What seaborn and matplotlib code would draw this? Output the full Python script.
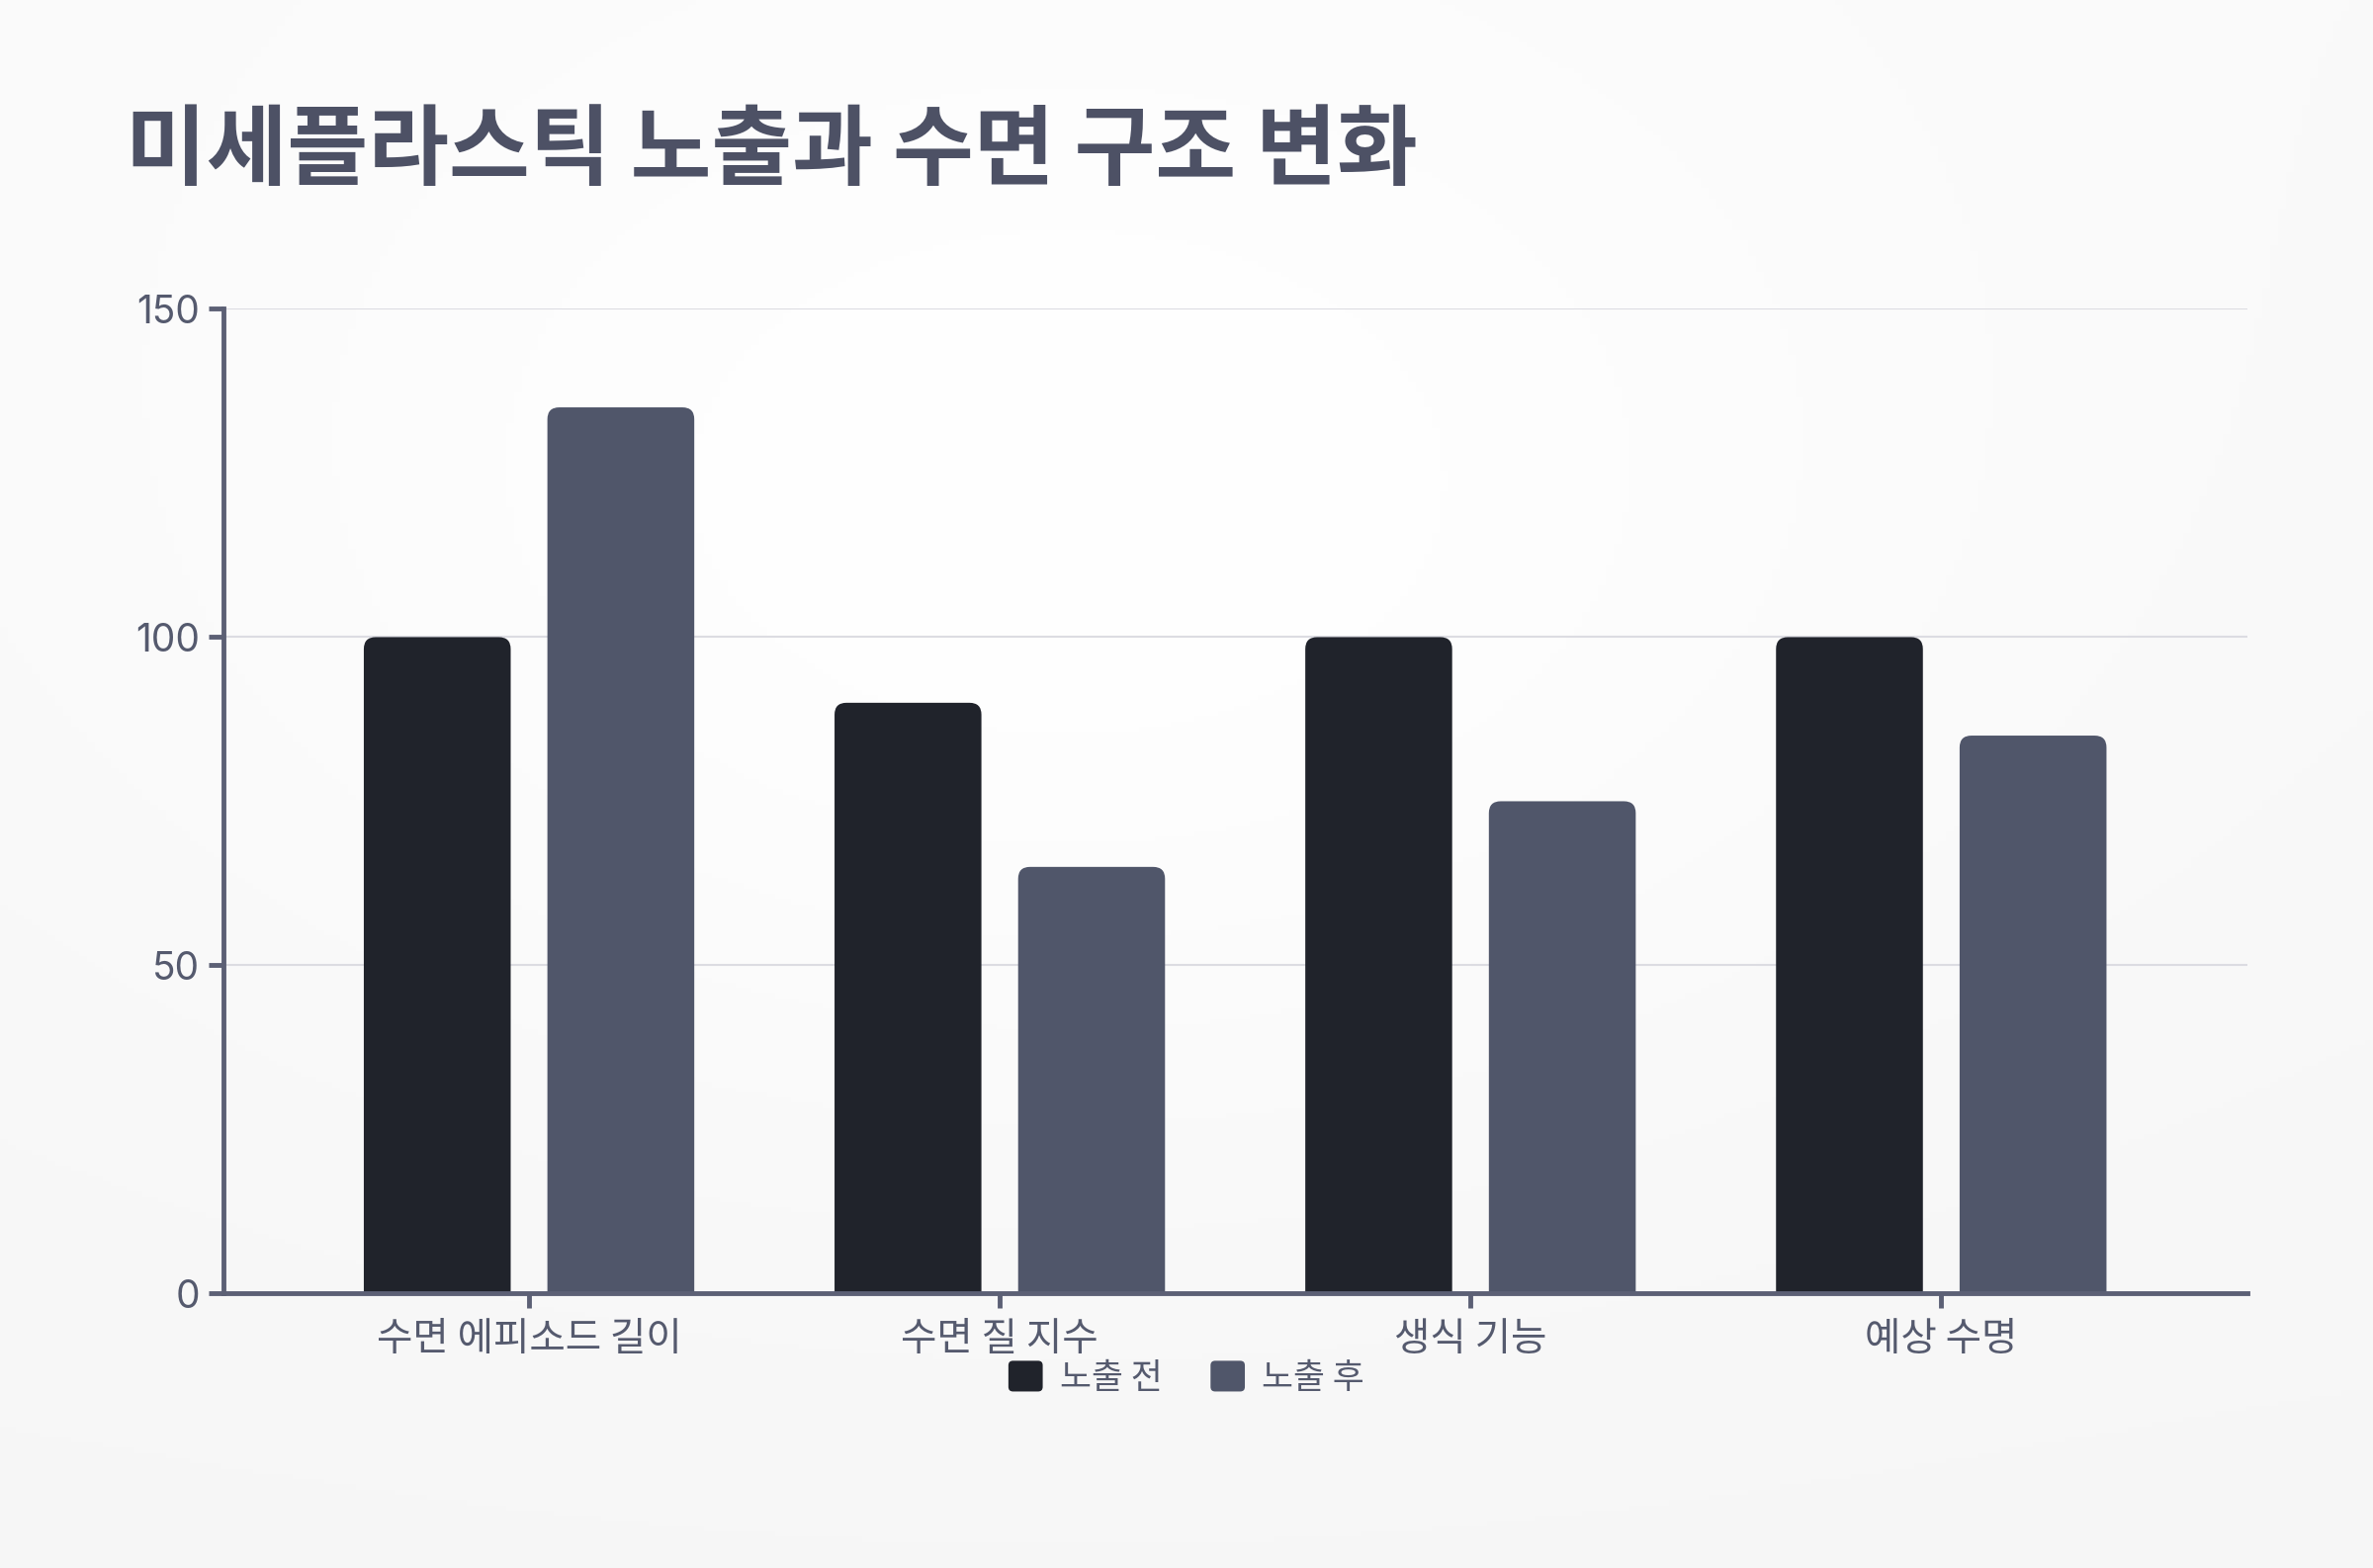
import numpy as np
import pandas as pd
import matplotlib
matplotlib.use('Agg')
import matplotlib.pyplot as plt
from matplotlib.patches import FancyBboxPatch, Patch
from matplotlib.legend_handler import HandlerPatch
import seaborn as sns

# chart data
categories = ['수면 에피소드 길이', '수면 질 지수', '생식 기능', '예상 수명']
before_vals = [100, 90, 100, 100]
after_vals = [135, 65, 75, 85]
series_names = ['노출 전', '노출 후']
colors = ['#20232b', '#50566a']
y_ticks = [0, 50, 100, 150]

df = pd.DataFrame({
    'category': categories * 2,
    'value': before_vals + after_vals,
    'series': [series_names[0]] * len(categories) + [series_names[1]] * len(categories),
})

sns.set_theme(style='white')
plt.rcParams['font.family'] = ['Noto Sans CJK KR', 'DejaVu Sans']

text_col = '#555a6e'
axis_col = '#5c6075'

fig = plt.figure(figsize=(24, 15.86), dpi=100)

# soft background gradient
bg = fig.add_axes([0, 0, 1, 1], zorder=-10)
yy = np.linspace(0, 1, 300)[:, None]
xx = np.linspace(0, 1, 300)[None, :]
shade = 0.975 + 0.025 * np.exp(-((xx - 0.45) ** 2 + (yy - 0.35) ** 2) / 0.15) - 0.012 * yy
bg.imshow(shade, cmap='gray', vmin=0, vmax=1, aspect='auto', extent=[0, 1, 0, 1])
bg.set_axis_off()

ax = fig.add_axes([0.094, 0.175, 0.853, 0.628])
ax.patch.set_alpha(0)

sns.barplot(data=df, x='category', y='value', hue='series', palette=colors,
            width=0.78, gap=0.2, saturation=1, ax=ax, legend=False, zorder=3)

ax.set_xlim(-0.65, 3.65)
ax.set_ylim(0, 150)
fig.canvas.draw()

# rounded bar tops
inv = ax.transData.inverted()
p0 = inv.transform((0, 0))
p1 = inv.transform((1, 1))
dx_per_px = p1[0] - p0[0]
dy_per_px = p1[1] - p0[1]
radius_px = 12
for bar in list(ax.patches):
    x0 = bar.get_x()
    w = bar.get_width()
    h = bar.get_height()
    fc = bar.get_facecolor()
    bar.remove()
    rb = FancyBboxPatch((x0, -5), w, h + 5,
                        boxstyle=f'round,pad=0,rounding_size={radius_px * dx_per_px}',
                        mutation_aspect=dy_per_px / dx_per_px,
                        facecolor=fc, edgecolor='none', zorder=3)
    ax.add_patch(rb)

ax.set_yticks(y_ticks)
ax.yaxis.grid(True, color='#dcdce2', linewidth=1.5, zorder=0)
ax.xaxis.grid(False)
for s in ['top', 'right']:
    ax.spines[s].set_visible(False)
for s in ['left', 'bottom']:
    ax.spines[s].set_color(axis_col)
    ax.spines[s].set_linewidth(3.5)
    ax.spines[s].set_zorder(5)
ax.tick_params(axis='both', bottom=True, left=True, colors=axis_col, width=3.5, length=11,
               direction='out', labelcolor=text_col)
ax.tick_params(axis='x', pad=8, labelsize=28.5)
ax.tick_params(axis='y', pad=6, labelsize=28)
for lbl in ax.get_yticklabels():
    lbl.set_fontfamily(['Inter', 'DejaVu Sans'])
ax.set_xlabel('')
ax.set_ylabel('')

fig.text(0.053, 0.903, '미세플라스틱 노출과 수면 구조 변화', fontsize=64, fontweight='bold',
         color='#4d5165', ha='left', va='center')


class RoundHandler(HandlerPatch):
    def create_artists(self, legend, orig_handle, xdescent, ydescent, width, height, fontsize, trans):
        p = FancyBboxPatch((-xdescent, -ydescent), width, height,
                           boxstyle=f'round,pad=0,rounding_size={height * 0.15}',
                           facecolor=orig_handle.get_facecolor(), edgecolor='none', transform=trans)
        return [p]


handles = [Patch(facecolor=c) for c in colors]
fig.legend(handles, series_names, loc='center', bbox_to_anchor=(0.5, 0.121), ncol=2,
           frameon=False, fontsize=25, labelcolor=text_col, handlelength=1.0, handleheight=1.0,
           handletextpad=0.5, columnspacing=1.4,
           handler_map={Patch: RoundHandler()})

fig.savefig('out.png', dpi=100)
